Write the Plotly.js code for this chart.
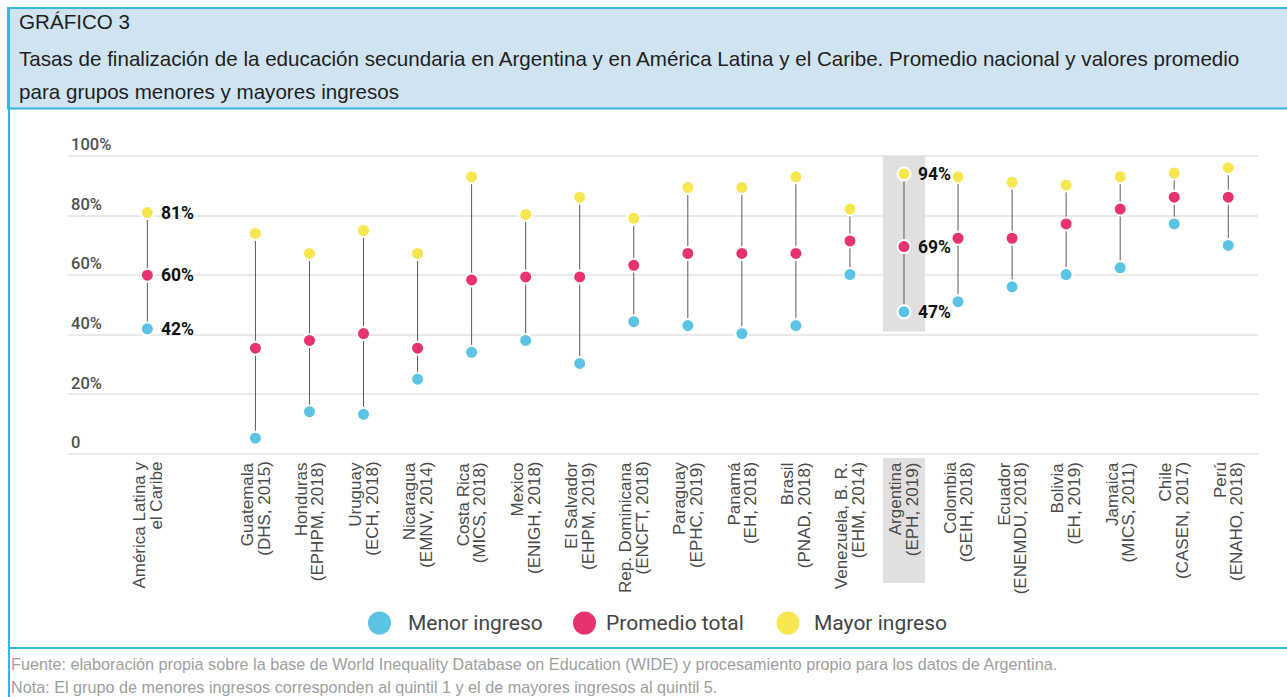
<!DOCTYPE html>
<html>
<head>
<meta charset="utf-8">
<script src="https://cdn.plot.ly/plotly-3.0.1.min.js"></script>
<style>
  html, body { margin: 0; padding: 0; background: #ffffff; }
  #chart { width: 1287px; height: 697px; }
</style>
</head>
<body>
<div id="chart"></div>
<script>
// ---------- DATA ----------
const categories = [
  "América Latina y<br>el Caribe",
  "",
  "Guatemala<br>(DHS, 2015)",
  "Honduras<br>(EPHPM, 2018)",
  "Uruguay<br>(ECH, 2018)",
  "Nicaragua<br>(EMNV, 2014)",
  "Costa Rica<br>(MICS, 2018)",
  "Mexico<br>(ENIGH, 2018)",
  "El Salvador<br>(EHPM, 2019)",
  "Rep. Dominicana<br>(ENCFT, 2018)",
  "Paraguay<br>(EPHC, 2019)",
  "Panamá<br>(EH, 2018)",
  "Brasil<br>(PNAD, 2018)",
  "Venezuela, B. R.<br>(EHM, 2014)",
  "Argentina<br>(EPH, 2019)",
  "Colombia<br>(GEIH, 2018)",
  "Ecuador<br>(ENEMDU, 2018)",
  "Bolivia<br>(EH, 2019)",
  "Jamaica<br>(MICS, 2011)",
  "Chile<br>(CASEN, 2017)",
  "Perú<br>(ENAHO, 2018)"
];
const menorIngreso   = [42, null, 5.3, 14.2, 13.3, 25.1, 34.1, 38.1, 30.4, 44.4, 43.1, 40.4, 43.1, 60.2, 47.7, 51.1, 56.1, 60.2, 62.5, 77.2, 70.0];
const promedioTotal  = [60, null, 35.5, 38.1, 40.4, 35.5, 58.4, 59.4, 59.4, 63.3, 67.3, 67.3, 67.3, 71.5, 69.6, 72.4, 72.4, 77.2, 82.2, 86.2, 86.2];
const mayorIngreso   = [81, null, 74.0, 67.3, 75.0, 67.3, 93.0, 80.4, 86.2, 79.1, 89.4, 89.4, 93.0, 82.2, 94.0, 93.0, 91.2, 90.3, 93.0, 94.3, 96.1];
const labelMenor     = ["42%", "", "", "", "", "", "", "", "", "", "", "", "", "", "47%", "", "", "", "", "", ""];
const labelPromedio  = ["60%", "", "", "", "", "", "", "", "", "", "", "", "", "", "69%", "", "", "", "", "", ""];
const labelMayor     = ["81%", "", "", "", "", "", "", "", "", "", "", "", "", "", "94%", "", "", "", "", "", ""];
const yTickVals   = [0, 20, 40, 60, 80, 100];
const yTickText   = ["0", "20%", "40%", "60%", "80%", "100%"];
const highlighted = "Argentina<br>(EPH, 2019)";
const seriesNames = ["Menor ingreso", "Promedio total", "Mayor ingreso"];

// ---------- STYLE ----------
const COL_MENOR = "#5bc3e3";
const COL_PROM  = "#e6336f";
const COL_MAYOR = "#f8e651";
const seriesColors = [COL_MENOR, COL_PROM, COL_MAYOR];
const BORDER    = "#35b5e0";

// geometry helpers (pixel -> paper)
const W = 1287, H = 697;
const M = {l: 68, r: 29, t: 135, b: 239};
const PW = W - M.l - M.r, PH = H - M.t - M.b;
const px = v => (v - M.l) / PW;
const py = v => (H - M.b - v) / PH;

const xs = categories.map((_, i) => i);

// connector segments
const segX = [], segY = [];
xs.forEach((x, i) => {
  if (menorIngreso[i] != null && mayorIngreso[i] != null) {
    segX.push(x, x, null);
    segY.push(menorIngreso[i], mayorIngreso[i], null);
  }
});

function dotTrace(name, vals, color) {
  return {
    type: "scatter", mode: "markers", name: name,
    x: xs, y: vals, showlegend: false,
    marker: {size: 13, color: color, line: {color: "#ffffff", width: 2}},
    hoverinfo: "skip", cliponaxis: false
  };
}

const traces = [
  {type: "scatter", mode: "lines", x: segX, y: segY, showlegend: false,
   line: {color: "#5a5a5a", width: 1}, hoverinfo: "skip"},
  dotTrace(seriesNames[0], menorIngreso, COL_MENOR),
  dotTrace(seriesNames[1], promedioTotal, COL_PROM),
  dotTrace(seriesNames[2], mayorIngreso, COL_MAYOR)
];

const hi = categories.indexOf(highlighted);
const hiLow = Math.min(menorIngreso[hi], promedioTotal[hi], mayorIngreso[hi]);

const shapes = [
  // header box
  {type: "rect", xref: "paper", yref: "paper", x0: px(8), x1: px(1295), y0: py(8), y1: py(108.5),
   fillcolor: "#cfe3f1", line: {color: BORDER, width: 2}, layer: "below"},
  // left border
  {type: "line", xref: "paper", yref: "paper", x0: px(9), x1: px(9), y0: py(8), y1: py(700),
   line: {color: BORDER, width: 2}, layer: "below"},
  // footer separator
  {type: "line", xref: "paper", yref: "paper", x0: px(9), x1: px(1295), y0: py(648), y1: py(648),
   line: {color: BORDER, width: 2}, layer: "below"},
  // highlight in plot
  {type: "rect", xref: "x", yref: "y", x0: hi - 0.39, x1: hi + 0.39, y0: hiLow - 6.6, y1: 100,
   fillcolor: "#e1dfdf", line: {width: 0}, layer: "between"},
  // highlight behind tick label
  {type: "rect", xref: "x", yref: "paper", x0: hi - 0.39, x1: hi + 0.39, y0: py(583), y1: py(458),
   fillcolor: "#e1dfdf", line: {width: 0}, layer: "below"}
];

const hdrFont = {family: "Liberation Sans, Arial, sans-serif", size: 20.6, color: "#1e1e1e"};
const ftFont  = {family: "Liberation Sans, Arial, sans-serif", size: 16.2, color: "#9e9e9e"};
function note(text, x, y, font) {
  return {xref: "paper", yref: "paper", x: px(x), y: py(y), xanchor: "left", yanchor: "middle",
          text: text, showarrow: false, font: font, align: "left"};
}
const annotations = [
  note("GRÁFICO 3", 17, 22, hdrFont),
  note("Tasas de finalización de la educación secundaria en Argentina y en América Latina y el Caribe. Promedio nacional y valores promedio", 17, 59, hdrFont),
  note("para grupos menores y mayores ingresos", 17, 91, hdrFont),
  note("Fuente: elaboración propia sobre la base de World Inequality Database on Education (WIDE) y procesamiento propio para los datos de Argentina.", 9, 664, ftFont),
  note("Nota: El grupo de menores ingresos corresponden al quintil 1 y el de mayores ingresos al quintil 5.", 9, 687, ftFont)
];

// category labels (two rotated lines each, tight line spacing)
const catFont = {family: "Liberation Sans, Arial, sans-serif", size: 17, color: "#4a4a4a"};
categories.forEach((c, i) => {
  if (!c) return;
  const lines = c.split("<br>");
  lines.forEach((ln, k) => {
    const shift = (k - (lines.length - 1) / 2) * 16.5;
    annotations.push({xref: "x", yref: "paper", x: i, y: py(461), xanchor: "center", yanchor: "top",
      xshift: shift, text: ln, textangle: -90, showarrow: false, font: catFont, borderpad: 0});
  });
});

// value labels for highlighted points
const valFont = {family: "Roboto, sans-serif", size: 17.5, color: "#111111", weight: 700};
[[menorIngreso, labelMenor], [promedioTotal, labelPromedio], [mayorIngreso, labelMayor]].forEach(([vals, labs]) => {
  labs.forEach((t, i) => {
    if (!t) return;
    annotations.push({xref: "x", yref: "y", x: i, y: vals[i], xanchor: "left", yanchor: "middle",
      xshift: 12, text: t, showarrow: false, font: valFont});
  });
});

// custom legend (large circles)
const legendPos = [{c: 379.5, t: 406}, {c: 584.5, t: 604}, {c: 788, t: 812}];
seriesNames.forEach((n, k) => {
  const p = legendPos[k];
  shapes.push({type: "circle", xref: "paper", yref: "paper",
    x0: px(p.c - 11.5), x1: px(p.c + 11.5), y0: py(634.5), y1: py(611.5),
    fillcolor: seriesColors[k], line: {width: 0}});
  annotations.push({xref: "paper", yref: "paper", x: px(p.t), y: py(623), xanchor: "left", yanchor: "middle",
    text: n, showarrow: false, font: {family: "Roboto, sans-serif", size: 21, color: "#444444"}});
});

const layout = {
  width: W, height: H,
  margin: M,
  paper_bgcolor: "#ffffff", plot_bgcolor: "#ffffff",
  showlegend: false,
  xaxis: {
    range: [-1.468, 20.55], tickmode: "array", tickvals: xs, ticktext: categories,
    showticklabels: false, showgrid: false, zeroline: false, showline: false, ticks: "",
    fixedrange: true
  },
  yaxis: {
    range: [-1.35, 107.05], tickmode: "array", tickvals: yTickVals, ticktext: yTickText,
    ticklabelposition: "inside top", showgrid: true, gridcolor: "#e9e9e9", gridwidth: 2,
    zeroline: false, showline: false, ticks: "",
    tickfont: {family: "Roboto, sans-serif", size: 16.5, color: "#505050", weight: 500},
    fixedrange: true
  },
  shapes: shapes,
  annotations: annotations
};

Plotly.newPlot("chart", traces, layout, {staticPlot: true, displayModeBar: false});
</script>
</body>
</html>
